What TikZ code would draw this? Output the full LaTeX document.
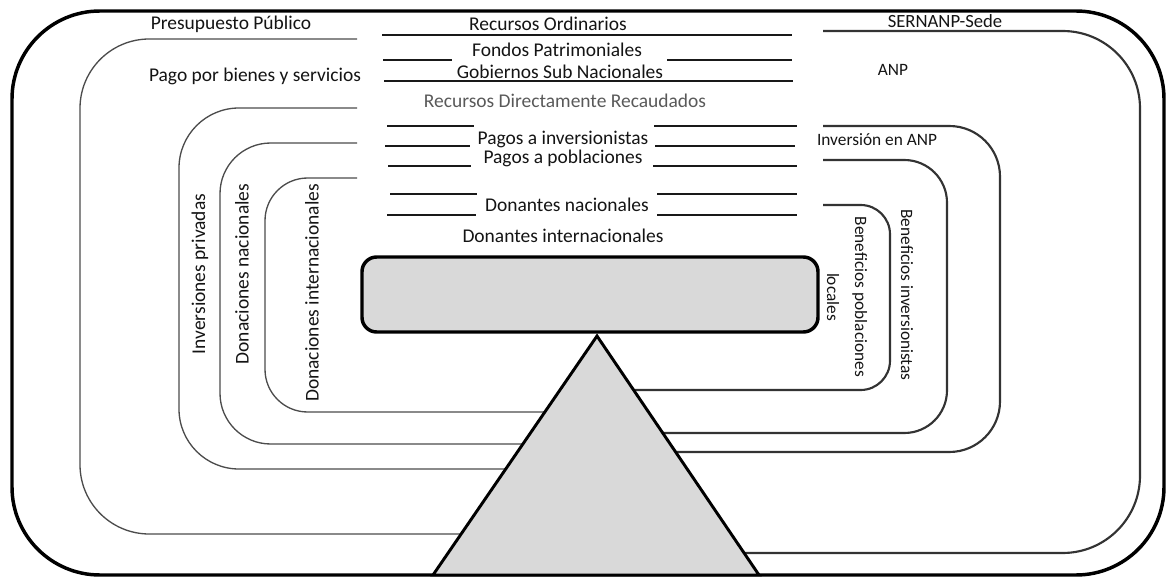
\documentclass[tikz,border=0pt]{standalone}
\usepackage{fontspec}
\setmainfont{Carlito}
\begin{document}
\begin{tikzpicture}[x=0.75pt,y=-0.75pt,
  lbl/.style={font=\fontsize{14.6}{15}\selectfont, text=black!92, inner sep=1pt},
  slbl/.style={lbl, font=\fontsize{13}{21}\selectfont},
  cline/.style={draw=black!70, line width=1pt},
  rline/.style={draw=black!80, line width=1.6pt},
  sep/.style={draw=black!90, line width=0.9pt},
]
\useasboundingbox (0,0) rectangle (1172,581);
% outer frame
\draw[line width=2.6pt, rounded corners=66pt] (12,11) rectangle (1164,575);

% left C shapes
\draw[cline, rounded corners=52pt] (357,39) -- (80,39) -- (80,534) -- (560,534);
\draw[cline, rounded corners=45pt] (357,108) -- (179,108) -- (179,469) -- (597,469);
\draw[cline, rounded corners=38pt] (357,143) -- (220,143) -- (220,444) -- (597,444);
\draw[cline, rounded corners=32pt] (357,178) -- (265,178) -- (265,412) -- (597,412);

% right reversed C shapes
\draw[rline, rounded corners=58pt] (823,31) -- (1140,31) -- (1140,553) -- (640,553);
\draw[rline, rounded corners=38pt] (823,126) -- (1000,126) -- (1000,452) -- (597,452);
\draw[rline, rounded corners=32pt] (823,160) -- (947,160) -- (947,433) -- (597,433);
\draw[rline, rounded corners=22pt] (823,205) -- (890,205) -- (890,390) -- (597,390);

% separator lines
\draw[sep] (382,35) -- (792,35);
\draw[sep] (383,60) -- (452,60);  \draw[sep] (667,60) -- (792,60);
\draw[sep] (384,81) -- (793,81);
\draw[sep] (387,126) -- (474,126); \draw[sep] (654,126) -- (797,126);
\draw[sep] (385,146) -- (470,146); \draw[sep] (655,146) -- (795,146);
\draw[sep] (388,166) -- (471,166); \draw[sep] (653,166) -- (797,166);
\draw[sep] (390,194) -- (477,194); \draw[sep] (657,194) -- (797,194);
\draw[sep] (387,215) -- (476,215); \draw[sep] (657,215) -- (797,215);

% central box
\draw[line width=2.6pt, fill=black!15, rounded corners=11pt] (362,257) rectangle (818,332);
% triangle
\draw[line width=2.2pt, fill=black!15, line join=miter] (597,336) -- (759,575) -- (433,575) -- cycle;

% labels
\node[lbl] (pp) at (231,24) {Presupuesto Público};
\node[lbl] (pbs) at (255,76) {Pago por bienes y servicios};
\node[lbl] (ro) at (548,24) {Recursos Ordinarios};
\node[lbl] (fp) at (557,50) {Fondos Patrimoniales};
\node[lbl] (gsn) at (560,72) {Gobiernos Sub Nacionales};
\node[lbl, text=black!65] (rdr) at (565,101) {Recursos Directamente Recaudados};
\node[lbl] (pi) at (563,139) {Pagos a inversionistas};
\node[lbl] (ppo) at (563,158) {Pagos a poblaciones};
\node[lbl] (dn) at (567,205) {Donantes nacionales};
\node[lbl] (di) at (563,236) {Donantes internacionales};
\node[slbl, font=\fontsize{14}{15}\selectfont] (ss) at (945,21) {SERNANP-Sede};
\node[slbl] (anp) at (893,70) {ANP};
\node[slbl] (ia) at (877,140) {Inversión en ANP};
\node[lbl, rotate=90] (ip) at (200,274) {Inversiones privadas};
\node[lbl, rotate=90] (dna) at (242,274) {Donaciones nacionales};
\node[lbl, rotate=90] (din) at (312,293) {Donaciones internacionales};
\node[slbl, rotate=-90] (bi) at (907,295) {Beneficios inversionistas};
\node[slbl, rotate=-90, align=center] (bpl) at (847,297) {Beneficios poblaciones\\locales};
\end{tikzpicture}
\end{document}
